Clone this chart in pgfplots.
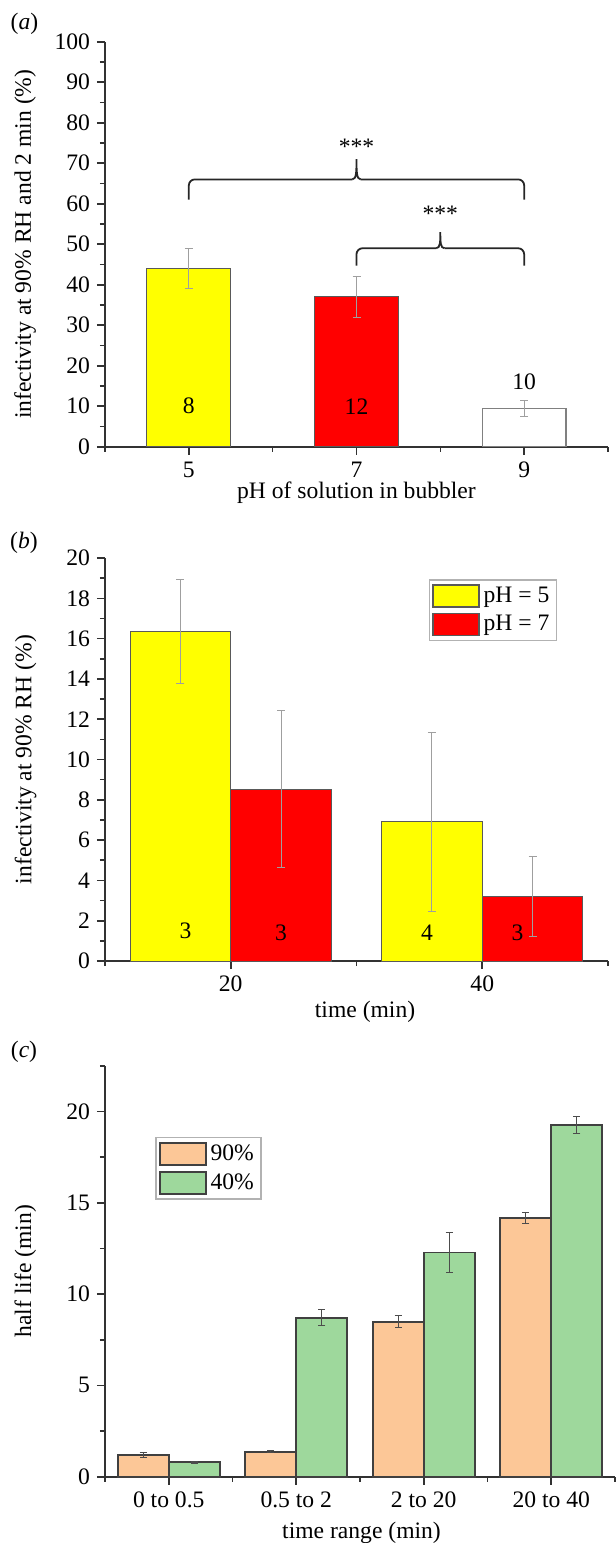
\documentclass[border=0pt]{standalone}
\usepackage{fontspec}
\setmainfont{Liberation Serif}
\usepackage{pgfplots}
\pgfplotsset{compat=1.18}
\definecolor{barY}{RGB}{255,255,0}
\definecolor{barR}{RGB}{255,0,0}
\definecolor{barO}{RGB}{252,199,151}
\definecolor{barG}{RGB}{158,216,156}
\definecolor{axisc}{RGB}{50,50,50}
\newcommand{\ff}{\fontsize{11.8}{13}\selectfont}
\pgfplotsset{
  myaxis/.style={
    scale only axis,
    axis x line*=bottom, axis y line*=left,
    axis line style={axisc, line width=0.8pt},
    every tick/.style={axisc, line width=0.8pt},
    tick align=outside,
    major tick length=4pt, minor tick length=2.5pt,
    /pgf/number format/assume math mode=true,
    tick label style={font=\ff},
    label style={font=\ff},
    legend style={font=\ff},
    clip=false,
  },
  errA/.style={error bars/.cd, y dir=both, y explicit,
    error bar style={gray!75, line width=0.5pt},
    error mark options={rotate=90, mark size=2pt, gray!75, line width=0.5pt}},
  errC/.style={error bars/.cd, y dir=both, y explicit,
    error bar style={black!70, line width=0.6pt},
    error mark options={rotate=90, mark size=1.8pt, black!70, line width=0.6pt}},
}
\begin{document}
\begin{tikzpicture}
\useasboundingbox (0,0) rectangle (308pt,-771.5pt);
\node[font=\ff] at (12.25pt,-12pt) {(\textit{a})};
\node[font=\ff] at (12pt,-271.5pt) {(\textit{b})};
\node[font=\ff] at (12pt,-526pt) {(\textit{c})};

% ---------------- panel (a)
\begin{axis}[myaxis, at={(52.5pt,-223.35pt)}, anchor=south west,
  width=251.5pt, height=202.5pt,
  xmin=-0.5, xmax=2.5, ymin=0, ymax=100,
  xtick={0,1,2}, xticklabels={5,7,9}, minor xtick={-0.5,0.5,1.5,2.5},
  ytick={0,10,...,100}, minor ytick={5,15,...,95},
  xlabel={pH of solution in bubbler},
  ylabel={infectivity at 90\% RH and 2 min (\%)},
  xlabel style={at={(axis description cs:0.5,-0.114)}, anchor=center},
  ylabel style={at={(axis description cs:-0.159,0.5)}, anchor=center},
]
\addplot[ybar, bar width=0.5, bar shift=0pt, fill=barY, draw=black!65, line width=0.5pt, errA]
  coordinates {(0,44) +- (0,5)};
\addplot[ybar, bar width=0.5, bar shift=0pt, fill=barR, draw=black!65, line width=0.5pt, errA]
  coordinates {(1,37) +- (0,5)};
\addplot[ybar, bar width=0.5, bar shift=0pt, fill=white, draw=black!50, line width=0.6pt, errA]
  coordinates {(2,9.4) +- (0,2)};
\node[font=\ff] at (axis cs:0,10) {8};
\node[font=\ff] at (axis cs:1,10) {12};
\node[font=\ff] at (axis cs:2,16) {10};
% brackets
\draw[black!85, line width=0.9pt, rounded corners=3pt] (axis cs:0,61) -- (axis cs:0,66) -- (axis cs:0.975,66);
\draw[black!85, line width=0.9pt] (axis cs:0.975,66) .. controls (axis cs:1,66) and (axis cs:1,68) .. (axis cs:1,71)
   .. controls (axis cs:1,68) and (axis cs:1,66) .. (axis cs:1.025,66);
\draw[black!85, line width=0.9pt, rounded corners=3pt] (axis cs:1.025,66) -- (axis cs:2,66) -- (axis cs:2,61);
\draw[black!85, line width=0.9pt, rounded corners=3pt] (axis cs:1,44.7) -- (axis cs:1,49) -- (axis cs:1.475,49);
\draw[black!85, line width=0.9pt] (axis cs:1.475,49) .. controls (axis cs:1.5,49) and (axis cs:1.5,50.6) .. (axis cs:1.5,53)
   .. controls (axis cs:1.5,50.6) and (axis cs:1.5,49) .. (axis cs:1.525,49);
\draw[black!85, line width=0.9pt, rounded corners=3pt] (axis cs:1.525,49) -- (axis cs:2,49) -- (axis cs:2,44.7);
\node[font=\ff] at (axis cs:1,74) {***};
\node[font=\ff] at (axis cs:1.5,57.4) {***};
\end{axis}

% ---------------- panel (b)
\begin{axis}[myaxis, at={(52.5pt,-480.5pt)}, anchor=south west,
  width=251.5pt, height=201.5pt,
  xmin=-0.5, xmax=1.5, ymin=0, ymax=20,
  xtick={0,1}, xticklabels={20,40}, minor xtick={-0.5,0.5,1.5},
  ytick={0,2,...,20}, minor ytick={1,3,...,19},
  xlabel={time (min)},
  ylabel={infectivity at 90\% RH (\%)},
  xlabel style={at={(axis description cs:0.517,-0.127)}, anchor=center},
  ylabel style={at={(axis description cs:-0.158,0.5)}, anchor=center},
  legend style={at={(0.899,0.948)}, anchor=north east, draw=gray!60, line width=0.8pt,
    inner sep=1.5pt, row sep=1pt, cells={anchor=west}},
  legend image code/.code={\draw[#1] (0pt,-5.5pt) rectangle (23pt,5.5pt);},
]
\addplot[forget plot, ybar, bar width=0.4, bar shift=0pt, fill=barY, draw=black!65, line width=0.5pt, errA]
  coordinates {(-0.2,16.35) +- (0,2.6) (0.8,6.9) +- (0,4.45)};
\addplot[forget plot, ybar, bar width=0.4, bar shift=0pt, fill=barR, draw=black!65, line width=0.5pt, errA]
  coordinates {(0.2,8.53) +- (0,3.9) (1.2,3.21) +- (0,2.0)};
\addlegendimage{fill=barY, draw=black!65, line width=0.6pt}
\addlegendentry{pH = 5}
\addlegendimage{fill=barR, draw=black!65, line width=0.6pt}
\addlegendentry{pH = 7}
\node[font=\ff] at (axis cs:-0.18,1.48) {3};
\node[font=\ff] at (axis cs:0.2,1.4) {3};
\node[font=\ff] at (axis cs:0.78,1.4) {4};
\node[font=\ff] at (axis cs:1.14,1.4) {3};
\end{axis}

% ---------------- panel (c)
\begin{axis}[myaxis, at={(52.5pt,-738.35pt)}, anchor=south west,
  width=255pt, height=205.5pt,
  xmin=-0.5, xmax=3.5, ymin=0, ymax=22.5,
  xtick={0,1,2,3}, xticklabels={0 to 0.5,0.5 to 2,2 to 20,20 to 40},
  minor xtick={-0.5,0.5,1.5,2.5,3.5},
  ytick={0,5,...,20}, minor ytick={2.5,7.5,...,22.5},
  xlabel={time range (min)},
  ylabel={half life (min)},
  xlabel style={at={(axis description cs:0.503,-0.136)}, anchor=center},
  ylabel style={at={(axis description cs:-0.156,0.5)}, anchor=center},
  legend style={at={(0.098,0.827)}, anchor=north west, draw=gray!60, line width=0.8pt,
    inner sep=1.5pt, row sep=1pt, cells={anchor=west}},
  legend image code/.code={\draw[#1] (0pt,-5.5pt) rectangle (23pt,5.5pt);},
]
\addplot[forget plot, ybar, bar width=0.4, bar shift=0pt, fill=barO, draw=black!75, line width=0.9pt, errC]
  coordinates {(-0.2,1.19) +- (0,0.13) (0.8,1.37) +- (0,0.05) (1.8,8.49) +- (0,0.33) (2.8,14.16) +- (0,0.3)};
\addplot[forget plot, ybar, bar width=0.4, bar shift=0pt, fill=barG, draw=black!75, line width=0.9pt, errC]
  coordinates {(0.2,0.80) +- (0,0.05) (1.2,8.71) +- (0,0.45) (2.2,12.27) +- (0,1.1) (3.2,19.25) +- (0,0.48)};
\addlegendimage{fill=barO, draw=black!75, line width=0.9pt}
\addlegendentry{90\%}
\addlegendimage{fill=barG, draw=black!75, line width=0.9pt}
\addlegendentry{40\%}
\end{axis}
\end{tikzpicture}
\end{document}
